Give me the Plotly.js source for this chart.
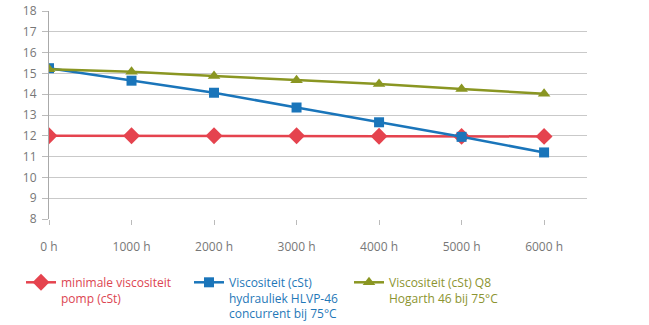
<!DOCTYPE html>
<html>
<head>
<meta charset="utf-8">
<script src="https://cdn.plot.ly/plotly-3.0.1.min.js"></script>
<style>html,body{margin:0;padding:0;background:#fff;}#chart{width:649px;height:325px;}</style>
</head>
<body>
<div id="chart"></div>
<script>
const hours = [0, 1000, 2000, 3000, 4000, 5000, 6000];
const hourLabels = ['0 h', '1000 h', '2000 h', '3000 h', '4000 h', '5000 h', '6000 h'];
const minViscosity = [12, 12, 12, 12, 11.98, 11.97, 11.97];
const hlvpViscosity = [15.25, 14.65, 14.07, 13.36, 12.65, 11.95, 11.2];
const q8Viscosity = [15.2, 15.08, 14.87, 14.67, 14.49, 14.25, 14.02];
const seriesNames = [
  'minimale viscositeit<br>pomp (cSt)',
  'Viscositeit (cSt)<br>hydrauliek HLVP-46<br>concurrent bij 75°C',
  'Viscositeit (cSt) Q8<br>Hogarth 46 bij 75°C'
];
const lineColors = ['#e5434e', '#1a75ba', '#8a9622'];
const textColors = ['#dc4551', '#1f78b8', '#8c9430'];
const symbols = ['diamond', 'square', 'triangle-up'];
const sizes = [13, 10, 11];
const seriesValues = [minViscosity, hlvpViscosity, q8Viscosity];
const legendIds = ['legend', 'legend2', 'legend3'];

const traces = seriesValues.map((vals, i) => ({
  x: hours, y: vals, type: 'scatter', mode: 'lines+markers',
  name: '<span style="color:' + textColors[i] + '">' + seriesNames[i] + '</span>',
  line: {color: lineColors[i], width: 2.5},
  marker: {symbol: symbols[i], size: sizes[i], color: lineColors[i]},
  legend: legendIds[i]
}));

const legendBase = {
  orientation: 'v', xref: 'container', yref: 'container', xanchor: 'left', yanchor: 'top',
  font: {family: 'Open Sans, sans-serif', size: 12}, bgcolor: 'rgba(0,0,0,0)', itemwidth: 30,
  tracegroupgap: 0, valign: 'top'
};

const layout = {
  width: 649, height: 325,
  margin: {l: 49, r: 62, t: 11, b: 106, autoexpand: false},
  paper_bgcolor: '#fff', plot_bgcolor: '#fff',
  showlegend: true,
  font: {family: 'Open Sans, sans-serif', color: '#777'},
  xaxis: {
    range: [0, 6520], tickmode: 'array', tickvals: hours, ticktext: hourLabels,
    showgrid: false, zeroline: false, showline: false,
    ticks: 'outside', ticklen: 5, tickcolor: '#bbb', tickwidth: 1,
    ticklabelstandoff: 12,
    tickfont: {size: 12, color: '#777'}
  },
  yaxis: {
    range: [8, 18], dtick: 1, showgrid: true, gridcolor: '#c9c9c9', gridwidth: 1,
    zeroline: false, showline: true, linecolor: '#aaa', linewidth: 1,
    ticks: 'outside', ticklen: 6, tickcolor: '#bbb',
    ticklabelstandoff: 3,
    tickfont: {size: 12, color: '#777'}
  },
  legend: Object.assign({}, legendBase, {x: 21/649, y: 1 - 268/325}),
  legend2: Object.assign({}, legendBase, {x: 189/649, y: 1 - 268/325}),
  legend3: Object.assign({}, legendBase, {x: 349/649, y: 1 - 268/325})
};

Plotly.newPlot('chart', traces, layout, {displayModeBar: false, staticPlot: true});
</script>
</body>
</html>
